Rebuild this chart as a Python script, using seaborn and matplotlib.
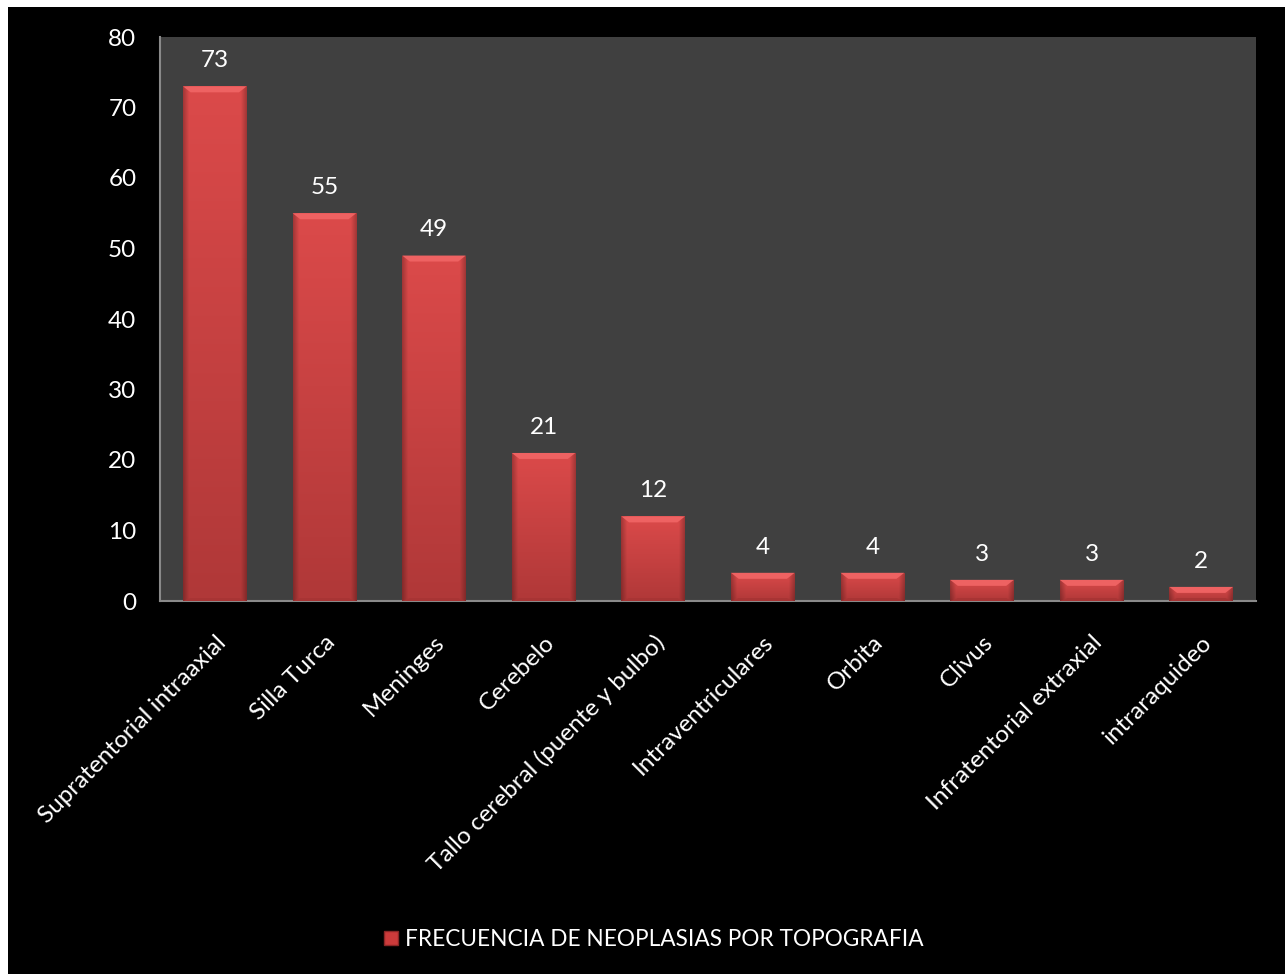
import numpy as np
import pandas as pd
import matplotlib
matplotlib.use("Agg")
import matplotlib.pyplot as plt
from matplotlib.patches import Polygon, Rectangle
from matplotlib.lines import Line2D
import seaborn as sns

categories = [
    "Supratentorial intraaxial", "Silla Turca", "Meninges", "Cerebelo",
    "Tallo cerebral (puente y bulbo)", "Intraventriculares", "Orbita",
    "Clivus", "Infratentorial extraxial", "intraraquideo",
]
frequencies = [73, 55, 49, 21, 12, 4, 4, 3, 3, 2]
y_ticks = [0, 10, 20, 30, 40, 50, 60, 70, 80]
series_name = "FRECUENCIA DE NEOPLASIAS POR TOPOGRAFIA"

df = pd.DataFrame({"Topografia": categories, "Frecuencia": frequencies})

sns.set_theme(style="dark")
plt.rcParams["font.family"] = ["Lato", "DejaVu Sans"]

FS = 17.5

fig = plt.figure(figsize=(12.85, 9.74), dpi=100, facecolor="black")
ax = fig.add_axes([160 / 1285, 1 - 601 / 974, 1096 / 1285, 564 / 974])
ax.set_facecolor("#404040")

sns.barplot(data=df, x="Topografia", y="Frecuencia", color="#d44444",
            width=0.58, saturation=1, ax=ax, zorder=2, linewidth=0)

ax.set_ylim(0, 80)
ax.set_xlim(-0.5, len(categories) - 0.5)
ax.set_yticks(y_ticks)
ax.set_yticklabels([str(t) for t in y_ticks], color="white", fontsize=FS)
ax.tick_params(axis="y", length=0, pad=17)
ax.tick_params(axis="x", length=0, pad=22)
ax.set_xticks(range(len(categories)))
ax.set_xticklabels(categories, rotation=45, ha="right", rotation_mode="anchor",
                   color="white", fontsize=FS)
ax.set_xlabel("")
ax.set_ylabel("")
ax.grid(False)
for side in ["top", "right"]:
    ax.spines[side].set_visible(False)
for side in ["left", "bottom"]:
    ax.spines[side].set_visible(True)
    ax.spines[side].set_color("#8a8a8a")
    ax.spines[side].set_linewidth(1.5)

# Shaded fill for each bar: vertical gradient with darker side edges
top_rgb = np.array([0.86, 0.29, 0.29])
bot_rgb = np.array([0.69, 0.22, 0.22])
nx, ny = 64, 128
t = np.linspace(0, 1, ny)[:, None, None]
col = top_rgb * (1 - t) + bot_rgb * t
u = np.linspace(-1, 1, nx)[None, :, None]
edge = 1 - 0.25 * np.clip((np.abs(u) - 0.82) / 0.18, 0, 1)
grad = np.clip(col * edge, 0, 1)

px_per_unit = 564 / 80
bevel_h = 6 / px_per_unit
for patch, val in zip(ax.patches, frequencies):
    x0 = patch.get_x()
    w = patch.get_width()
    h = patch.get_height()
    im = ax.imshow(grad, extent=[x0, x0 + w, 0, h], aspect="auto",
                   origin="upper", zorder=3, interpolation="bilinear")
    im.set_clip_path(patch)
    bh = min(bevel_h, h * 0.45)
    dx = w * 0.12
    ax.add_patch(Polygon([(x0, h), (x0 + w, h), (x0 + w - dx, h - bh), (x0 + dx, h - bh)],
                         closed=True, facecolor="#ee6262", edgecolor="none", zorder=4))
    ax.add_patch(Polygon([(x0, 0), (x0 + w, 0), (x0 + w - dx, bh * 0.5), (x0 + dx, bh * 0.5)],
                         closed=True, facecolor="#a83434", edgecolor="none", zorder=4))
    ax.annotate(str(val), (x0 + w / 2, h), xytext=(0, 11), textcoords="offset points",
                ha="center", va="bottom", color="white", fontsize=FS, zorder=5)

# Legend below the chart
handle = Line2D([], [], marker="s", linestyle="none", markersize=10,
                markerfacecolor="#cc3b3b", markeredgecolor="#8a2626")
leg = fig.legend([handle], [series_name], loc="center", bbox_to_anchor=(0.508, 1 - 939 / 974),
                 frameon=False, fontsize=16.3, handlelength=0.8, handletextpad=0.2,
                 labelcolor="white")

# Thin white band along the top and left edges of the canvas
fig.patches.append(Rectangle((0, 1 - 7 / 974), 1, 7 / 974, transform=fig.transFigure,
                             facecolor="white", edgecolor="none", zorder=10))
fig.patches.append(Rectangle((0, 0), 8 / 1285, 1, transform=fig.transFigure,
                             facecolor="white", edgecolor="none", zorder=10))

fig.savefig("out.png", dpi=100, facecolor="black")
